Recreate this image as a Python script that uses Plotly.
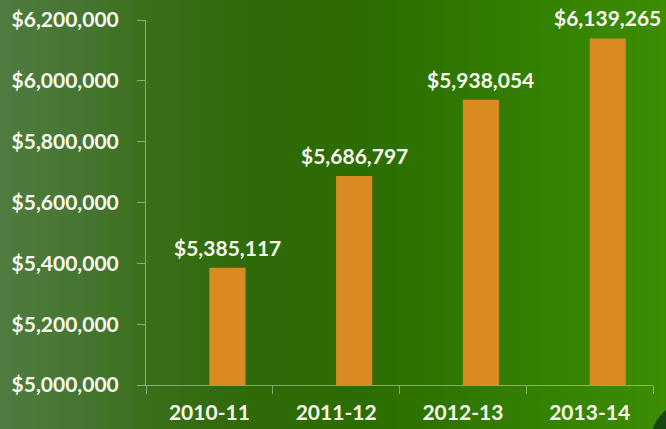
import plotly.graph_objects as go

categories = ["2010-11", "2011-12", "2012-13", "2013-14"]
values = [5385117, 5686797, 5938054, 6139265]
y_ticks = [5000000, 5200000, 5400000, 5600000, 5800000, 6000000, 6200000]

W, H = 666, 429
L, R, T, B = 146, 13, 20, 44
pw = W - L - R
ph = H - T - B

# background gradient stops (pixel x, color)
stops = [(0, (80, 124, 64)), (80, (70, 118, 50)), (150, (58, 111, 26)), (250, (47, 106, 8)),
         (350, (44, 108, 2)), (450, (47, 118, 2)), (550, (53, 130, 2)), (666, (60, 140, 4))]

def col_at(px):
    for (x0, c0), (x1, c1) in zip(stops[:-1], stops[1:]):
        if x0 <= px <= x1:
            t = (px - x0) / (x1 - x0)
            return tuple(round(a + (b - a) * t) for a, b in zip(c0, c1))
    return stops[-1][1]

def px_x(px):
    return (px - L) / pw

def px_y(py):
    return (H - B - py) / ph

shapes = []
step = 6
for px in range(0, W, step):
    c = col_at(px + step / 2)
    shapes.append(dict(type="rect", xref="paper", yref="paper",
                       x0=px_x(px), x1=px_x(px + step + 1), y0=-1, y1=2,
                       fillcolor="rgb(%d,%d,%d)" % c, line=dict(width=0), layer="below"))
# dark decorative blob in the bottom-right corner
shapes.append(dict(type="circle", xref="paper", yref="paper",
                   x0=px_x(652), x1=px_x(720), y0=px_y(470), y1=px_y(404),
                   fillcolor="rgb(24,70,14)", line=dict(width=0), layer="below"))

fig = go.Figure()
fig.add_trace(go.Bar(x=categories, y=values, marker=dict(color="#D98B22", line=dict(width=0)),
                     width=0.285, offset=0, hoverinfo="skip"))

annotations = []
for i, v in enumerate(values):
    annotations.append(dict(x=i + 0.1425, y=v, xref="x", yref="y", text="${:,}".format(v),
                            showarrow=False, yanchor="bottom", yshift=6,
                            font=dict(family="Lato", size=21, color="#F7F7EE", weight="bold")))

axcol = "rgba(200,220,185,0.55)"
fig.update_layout(
    width=W, height=H,
    margin=dict(l=L, r=R, t=T, b=B, autoexpand=False),
    paper_bgcolor="rgb(47,106,8)", plot_bgcolor="rgba(0,0,0,0)",
    shapes=shapes, annotations=annotations, showlegend=False,
    font=dict(family="Lato", size=21, color="#F7F7EE", weight="bold"),
    xaxis=dict(type="category", showgrid=False, showline=True, linecolor=axcol, linewidth=1,
               ticks="outside", ticklen=8, tickcolor=axcol, tickson="boundaries",
               ticklabelstandoff=9,
               tickfont=dict(family="Lato", size=21, color="#F7F7EE", weight="bold"),
               zeroline=False, range=[-0.5, 3.5], automargin=False),
    yaxis=dict(range=[5000000, 6200000], tickvals=y_ticks, tickformat="$,.0f",
               showgrid=False, showline=True, linecolor=axcol, linewidth=1,
               ticks="outside", ticklen=8, tickcolor=axcol, ticklabelstandoff=14,
               tickfont=dict(family="Lato", size=21, color="#F7F7EE", weight="bold"),
               zeroline=False, automargin=False),
)
fig.write_html("out.html", config={"displayModeBar": False},
               post_script="document.body.style.margin='0';document.body.style.overflow='hidden';")
